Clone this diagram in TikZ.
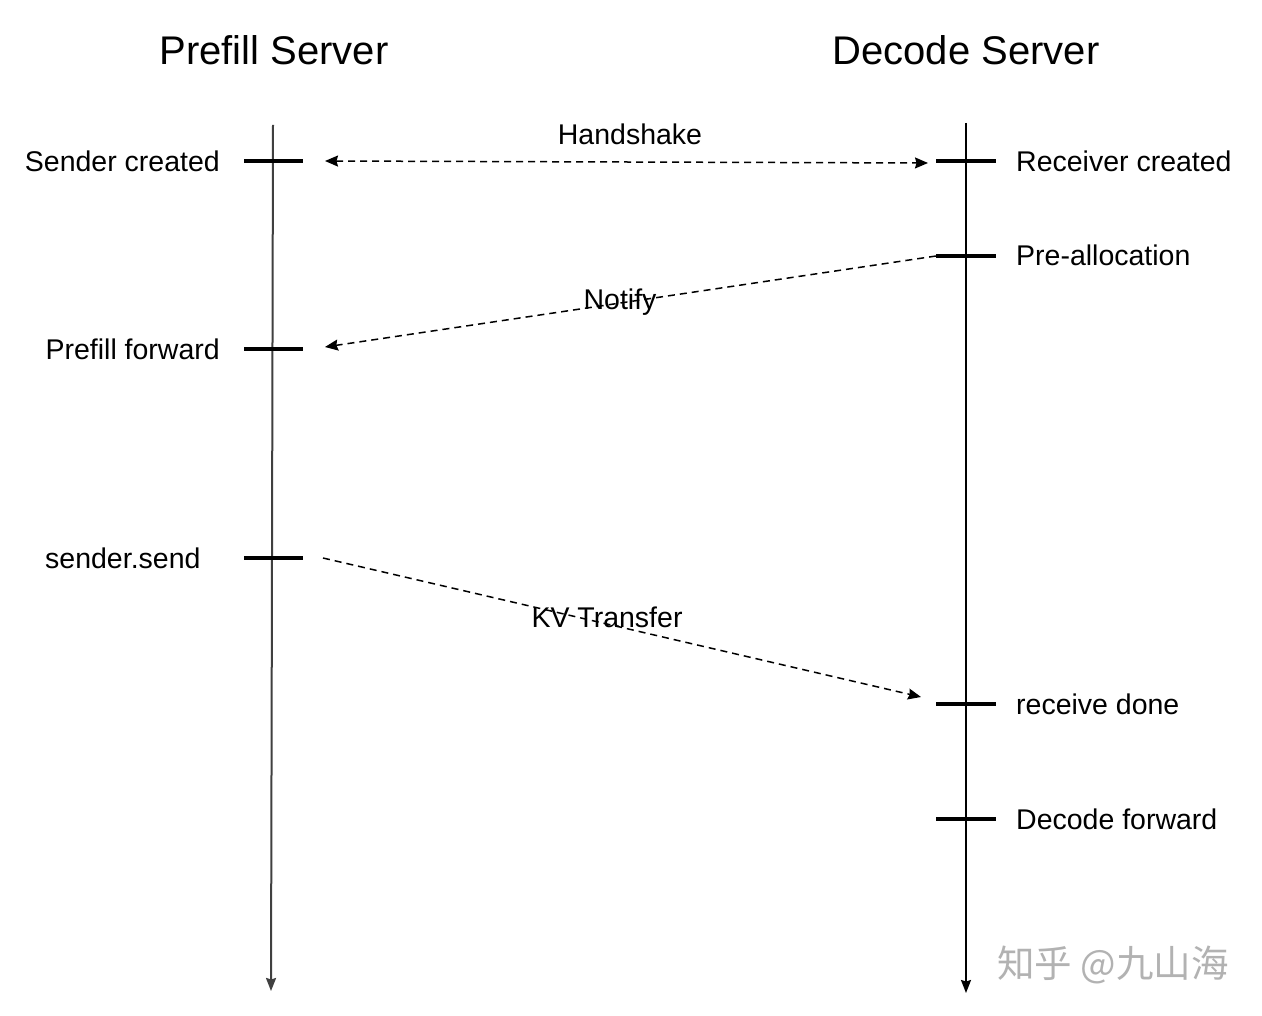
\documentclass[tikz,border=0pt]{standalone}
\usepackage{fontspec}
\setmainfont{Liberation Sans}
\newfontfamily\cjk{Noto Sans CJK SC}
\usetikzlibrary{arrows.meta}
\begin{document}
\begin{tikzpicture}[x=1pt,y=-1pt,
  title/.style={font=\fontsize{40}{44}\selectfont, inner sep=0pt},
  lbl/.style={font=\fontsize{28.5}{32}\selectfont, inner sep=0pt},
  headtip/.tip={Stealth[length=13pt,width=11pt,inset=1.5pt,fill=black]},
  timeline/.style={line width=2pt, -{Stealth[length=13pt,width=10pt,inset=1.5pt]}},
  tick/.style={line width=3.2pt},
  msg/.style={line width=1.5pt, dash pattern=on 7pt off 5pt}]
\useasboundingbox (0,0) rectangle (1262,1016);
\fill[white] (0,0) rectangle (1262,1016);
% titles
\node[title] (pt) at (274,50) {Prefill Server};
\node[title] (dt) at (966,50) {Decode Server};
% timelines
\coordinate (ls) at (273,125); \coordinate (le) at (271,991);
\coordinate (rs) at (966,123); \coordinate (re) at (966,993);
\draw[timeline, draw=black!75] (ls) -- (le);
\draw[timeline] (rs) -- (re);
% left ticks
\foreach \n/\y in {l1/161, l2/349, l3/558}{
  \coordinate (\n a) at (244,\y); \coordinate (\n b) at (303,\y);
  \draw[tick] (\n a) -- (\n b);
}
% right ticks
\foreach \n/\y in {r1/161, r2/256, r3/704, r4/819}{
  \coordinate (\n a) at (936,\y); \coordinate (\n b) at (996,\y);
  \draw[tick] (\n a) -- (\n b);
}
% left labels
\node[lbl, anchor=east] (sc) at (220,161) {Sender created};
\node[lbl, anchor=east] (pf) at (220,349) {Prefill forward};
\node[lbl, anchor=west] (ss) at (45,558) {sender.send};
% right labels
\node[lbl, anchor=west] (rc) at (1016,161) {Receiver created};
\node[lbl, anchor=west] (pa) at (1016,255) {Pre-allocation};
\node[lbl, anchor=west] (rd) at (1016,704) {receive done};
\node[lbl, anchor=west] (df) at (1016,819) {Decode forward};
% messages
\coordinate (h1) at (325,161); \coordinate (h2) at (928,163);
\draw[msg, headtip-headtip] (h1) -- (h2);
\node[lbl] (hs) at (630,134) {Handshake};
\coordinate (n1) at (936,256); \coordinate (n2) at (325,347);
\draw[msg, -headtip] (n1) -- (n2);
\node[lbl] (nt) at (620,302) {Notify};
\coordinate (k1) at (323,558); \coordinate (k2) at (921,697);
\draw[msg, -headtip] (k1) -- (k2);
\node[lbl] (kv) at (607,617) {KV Transfer};
% watermark
\node[font=\cjk\fontsize{37.5}{40}\selectfont, text=black!30, anchor=west, inner sep=0pt] (wm) at (997,965) {知乎 @九山海};
\end{tikzpicture}
\end{document}
